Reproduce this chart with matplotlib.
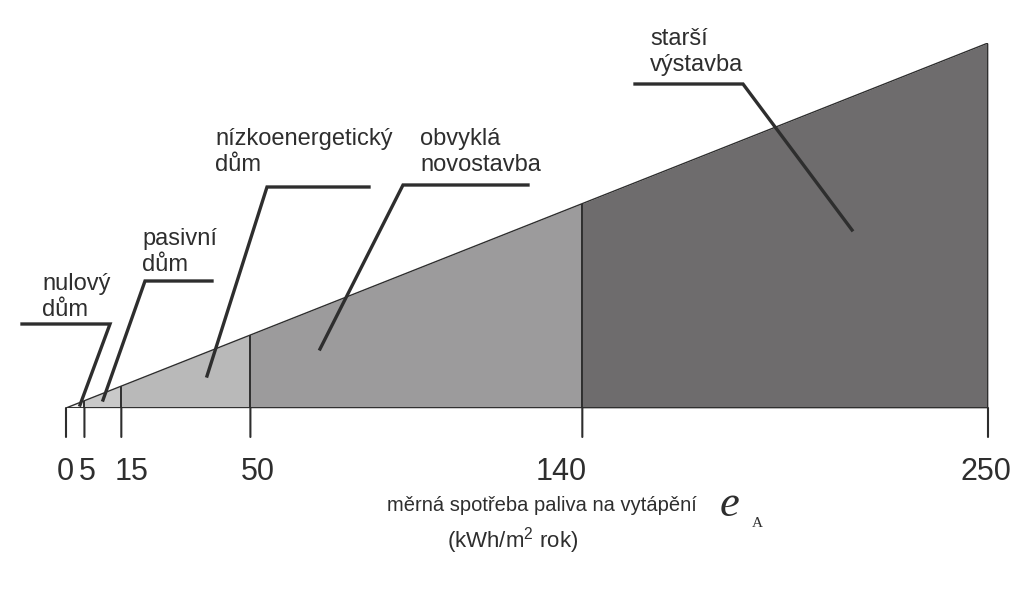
import numpy as np
import matplotlib
matplotlib.use("Agg")
import matplotlib.pyplot as plt
from matplotlib.transforms import ScaledTranslation

# energy classes (kWh/m2 rok)
bounds = [0, 5, 15, 50, 140, 250]
tick_labels = ["0", "5", "15", "50", "140", "250"]
zone_colors = ["#f2f2f2", "#c9c9c9", "#b9b9b9", "#9c9b9c", "#6e6c6d"]
zone_names = ["nulový\ndům", "pasivní\ndům", "nízkoenergetický\ndům",
              "obvyklá\nnovostavba", "starší\nvýstavba"]

plt.rcParams["font.family"] = ["Liberation Sans", "DejaVu Sans"]
plt.rcParams["mathtext.fontset"] = "custom"
plt.rcParams["mathtext.rm"] = "Liberation Sans"
ink = "#2e2e2e"

W, H = 1023, 591
fig = plt.figure(figsize=(W / 100, H / 100), dpi=100)
ax = fig.add_axes([66 / W, (H - 408) / H, 922 / W, 365 / H])
ax.set_xlim(0, 250)
ax.set_ylim(0, 250)
ax.axis("off")

# triangle split into zones, height grows with consumption
for i in range(len(zone_colors)):
    xs = np.array([bounds[i], bounds[i + 1]], dtype=float)
    ax.fill_between(xs, 0, xs, color=zone_colors[i], lw=0)
ax.vlines(bounds[1:], 0, bounds[1:], color=ink, lw=1.4)
ax.plot([bounds[0], bounds[-1]], [bounds[0], bounds[-1]], color=ink, lw=1.0)
ax.plot([bounds[0], bounds[-1]], [0, 0], color=ink, lw=1.4)

# ticks below the base, labels nudged like in the original drawing
label_dx = [-1, 3, 10, 7, -21, -2]
for b, lab, dx in zip(bounds, tick_labels, label_dx):
    ax.annotate("", xy=(b, 0), xytext=(0, -29), textcoords="offset pixels",
                arrowprops=dict(arrowstyle="-", color=ink, lw=1.5,
                                shrinkA=0, shrinkB=0))
    ax.text(b, 0, lab, fontsize=22, color=ink, ha="center", va="baseline",
            transform=ax.transData + ScaledTranslation(dx / 100, -72 / 100, fig.dpi_scale_trans))


def fx(x):
    return x / W


def fy(y):
    return 1 - y / H


# leader lines (pixel layout)
leaders = [
    [(22, 324), (110, 324), (80, 405)],
    [(212, 281), (145, 281), (103, 400)],
    [(369, 187), (267, 187), (207, 376)],
    [(528, 185), (403, 185), (320, 349)],
    [(635, 84), (743, 84), (852, 230)],
]
label_pos = [(42, 290), (142, 245), (215, 145), (420, 145), (650, 45)]

for pts, (tx, ty), name in zip(leaders, label_pos, zone_names):
    xs = [fx(p[0]) for p in pts]
    ys = [fy(p[1]) for p in pts]
    fig.add_artist(plt.Line2D(xs, ys, color=ink, lw=2.4, solid_joinstyle="miter"))
    for k, line in enumerate(name.split("\n")):
        fig.text(fx(tx), fy(ty + 26 * k), line, fontsize=17, color=ink,
                 ha="left", va="baseline")

# axis title
fig.text(fx(387), fy(511), "měrná spotřeba paliva na vytápění", fontsize=14.5,
         color=ink, ha="left", va="baseline")
fig.text(fx(720), fy(516), "e", fontsize=32, color=ink, style="italic",
         family="Liberation Serif", ha="left", va="baseline")
fig.text(fx(752), fy(527), "A", fontsize=11, color=ink,
         family="Liberation Serif", ha="left", va="baseline")
fig.text(fx(447), fy(548), "(kWh/m$^2$ rok)", fontsize=16, color=ink,
         ha="left", va="baseline")

fig.savefig("out.png", dpi=100)
